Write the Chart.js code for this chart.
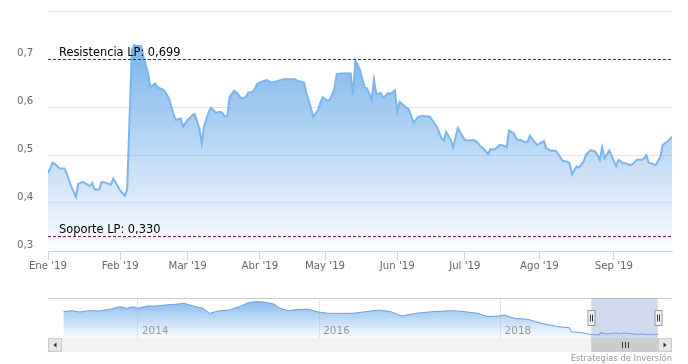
<!DOCTYPE html>
<html lang="es">
<head>
<meta charset="utf-8">
<title>Cotización 2019</title>
<script src="https://cdn.jsdelivr.net/npm/chart.js@4.4.1/dist/chart.umd.min.js"></script>
<style>
  html, body { margin: 0; padding: 0; background: #fff; }
  #wrap { position: relative; width: 688px; height: 364px; overflow: hidden; }
  #main-chart { position: absolute; left: 0; top: 0; }
  #nav-chart { position: absolute; left: 0; top: 290px; }
  #credits { position: absolute; right: 16px; top: 353px; font: 8.4px "DejaVu Sans", sans-serif; color: #999; white-space: nowrap; }
</style>
</head>
<body>
<div id="wrap">
  <canvas id="main-chart" width="688" height="280"></canvas>
  <canvas id="nav-chart" width="688" height="74"></canvas>
  <div id="credits">Estrategias de Inversión</div>
</div>
<script>
// dias desde el 1 de enero de 2019 y cierre
const days = [0, 2, 3, 5, 7, 8, 10, 12, 13, 15, 16, 18, 19, 20, 22, 23, 25, 27, 28, 30,
  31, 33, 34, 36, 37, 38, 40, 41, 43, 44, 46, 47, 49, 50, 52, 54, 55, 57, 58, 60,
  62, 63, 65, 66, 67, 69, 70, 72, 74, 75, 76, 77, 78, 80, 81, 83, 85, 86, 88, 90,
  92, 94, 96, 98, 101, 104, 106, 107, 110, 111, 113, 114, 116, 117, 118, 120, 121, 123, 124, 126,
  129, 130, 131, 132, 134, 136, 137, 139, 140, 141, 143, 144, 146, 147, 149, 150, 151, 153, 155, 157,
  159, 161, 164, 166, 167, 169, 170, 171, 173, 174, 176, 177, 179, 181, 183, 184, 186, 187, 189, 190,
  192, 194, 196, 197, 198, 200, 201, 202, 203, 205, 206, 207, 208, 210, 211, 213, 214, 216, 218, 219,
  221, 223, 224, 225, 227, 228, 230, 231, 233, 235, 236, 237, 238, 239, 241, 243, 244, 245, 247, 248,
  250, 251, 253, 255, 256, 257, 258, 260, 261, 263, 264, 266, 267, 268];
const prices = [0.462, 0.484, 0.481, 0.472, 0.472, 0.462, 0.434, 0.413, 0.440, 0.444, 0.441, 0.435, 0.442, 0.428, 0.428, 0.444, 0.442, 0.438, 0.451, 0.435,
  0.426, 0.415, 0.428, 0.719, 0.729, 0.727, 0.727, 0.705, 0.670, 0.641, 0.649, 0.641, 0.637, 0.634, 0.618, 0.583, 0.573, 0.576, 0.559, 0.573,
  0.583, 0.585, 0.556, 0.524, 0.559, 0.590, 0.599, 0.588, 0.590, 0.587, 0.580, 0.581, 0.621, 0.634, 0.630, 0.618, 0.621, 0.630, 0.632, 0.649,
  0.653, 0.656, 0.651, 0.653, 0.658, 0.658, 0.658, 0.655, 0.651, 0.629, 0.597, 0.579, 0.594, 0.609, 0.620, 0.613, 0.615, 0.637, 0.669, 0.670,
  0.670, 0.670, 0.625, 0.697, 0.677, 0.641, 0.639, 0.615, 0.658, 0.627, 0.629, 0.619, 0.629, 0.627, 0.635, 0.590, 0.611, 0.602, 0.595, 0.567,
  0.580, 0.581, 0.580, 0.566, 0.559, 0.535, 0.530, 0.548, 0.531, 0.516, 0.556, 0.548, 0.531, 0.530, 0.531, 0.528, 0.517, 0.514, 0.502, 0.512,
  0.512, 0.521, 0.519, 0.516, 0.551, 0.546, 0.535, 0.531, 0.531, 0.526, 0.528, 0.540, 0.533, 0.521, 0.523, 0.529, 0.514, 0.509, 0.509, 0.503,
  0.488, 0.486, 0.483, 0.460, 0.476, 0.474, 0.486, 0.500, 0.510, 0.507, 0.500, 0.490, 0.516, 0.493, 0.509, 0.488, 0.477, 0.490, 0.483, 0.483,
  0.479, 0.481, 0.490, 0.490, 0.493, 0.500, 0.484, 0.481, 0.479, 0.496, 0.521, 0.528, 0.533, 0.538];

const monthDays = [0, 31, 60, 91, 119, 150, 179, 211, 243];
const monthLabels = ["Ene '19", "Feb '19", "Mar '19", "Abr '19", "May '19", "Jun '19", "Jul '19", "Ago '19", "Sep '19"];
const yTicks = [0.3, 0.4, 0.5, 0.6, 0.7, 0.8];

const resistance = 0.699;
const support = 0.330;

// historico para el navegador (años)
const navYears = [2013.18, 2013.26, 2013.36, 2013.47, 2013.58, 2013.69, 2013.80, 2013.88, 2013.95, 2014.00,
  2014.10, 2014.20, 2014.31, 2014.42, 2014.51, 2014.61, 2014.72, 2014.79, 2014.90, 2015.01,
  2015.12, 2015.23, 2015.32, 2015.41, 2015.50, 2015.57, 2015.66, 2015.77, 2015.88, 2015.99,
  2016.10, 2016.21, 2016.37, 2016.51, 2016.66, 2016.79, 2016.91, 2017.06, 2017.24, 2017.46,
  2017.61, 2017.75, 2017.86, 2017.98, 2018.04, 2018.15, 2018.30, 2018.45, 2018.63, 2018.76,
  2018.78, 2018.89, 2018.97];
const navPrices = [3.55, 3.69, 3.51, 3.69, 3.65, 3.87, 4.23, 4.00, 4.23, 4.00,
  4.32, 4.32, 4.46, 4.55, 4.68, 4.32, 4.00, 3.33, 3.69, 3.78,
  4.23, 4.82, 4.91, 4.82, 4.59, 4.00, 3.69, 3.87, 3.87, 3.51,
  3.33, 3.33, 3.33, 3.55, 3.78, 3.55, 2.97, 3.33, 3.55, 3.69,
  3.55, 3.33, 2.88, 2.97, 3.11, 2.66, 2.52, 1.98, 1.53, 1.39,
  0.85, 0.72, 0.54];
const navTicks = [2014, 2016, 2018];

Chart.defaults.font.family = '"DejaVu Sans", sans-serif';

const fmt = (v, d) => v.toFixed(d).replace(".", ",");
const toYear = (d) => 2019 + d / 365;

function blueFill(topPx) {
  return (context) => {
    const { chart } = context;
    const area = chart.chartArea;
    if (!area) return "rgba(124,181,236,0.5)";
    const top = topPx ? topPx(chart) : area.top;
    const g = chart.ctx.createLinearGradient(0, top, 0, area.bottom);
    g.addColorStop(0, "rgba(124,181,236,1)");
    g.addColorStop(1, "rgba(124,181,236,0.03)");
    return g;
  };
}

const lineLabels = {
  id: "lineLabels",
  afterDatasetsDraw(chart) {
    const { ctx, chartArea, scales: { y } } = chart;
    ctx.save();
    ctx.font = '11.4px "DejaVu Sans", sans-serif';
    ctx.fillStyle = "#000";
    ctx.textBaseline = "alphabetic";
    ctx.fillText("Resistencia LP: " + fmt(resistance, 3), chartArea.left + 11, y.getPixelForValue(resistance) - 3);
    ctx.fillText("Soporte LP: " + fmt(support, 3), chartArea.left + 11, y.getPixelForValue(support) - 3.5);
    ctx.restore();
  }
};

const xMax = days[days.length - 1];

new Chart(document.getElementById("main-chart"), {
  type: "line",
  data: {
    datasets: [
      { data: [{ x: 0, y: resistance }, { x: xMax, y: resistance }], borderColor: "#006400", borderWidth: 1, borderDash: [3, 2], pointRadius: 0, fill: false, order: 0 },
      { data: [{ x: 0, y: support }, { x: xMax, y: support }], borderColor: "#800040", borderWidth: 1, borderDash: [3, 2], pointRadius: 0, fill: false, order: 0 },
      {
        data: days.map((d, i) => ({ x: d, y: prices[i] })),
        borderColor: "#7cb5ec", borderWidth: 2, pointRadius: 0, tension: 0,
        fill: "start",
        backgroundColor: blueFill((c) => c.scales.y.getPixelForValue(Math.max(...prices))),
        order: 2
      }
    ]
  },
  options: {
    responsive: false,
    animation: false,
    events: [],
    layout: { padding: { left: 17, right: 16, top: 11, bottom: 0 } },
    plugins: { legend: { display: false }, tooltip: { enabled: false } },
    scales: {
      x: {
        type: "linear", min: 0, max: xMax,
        afterBuildTicks: (s) => { s.ticks = monthDays.map(value => ({ value })); },
        afterFit: (s) => { s.height = 29; },
        grid: { drawOnChartArea: false, drawTicks: true, tickLength: 9, color: "#ccd6eb" },
        border: { color: "#ccd6eb" },
        ticks: { callback: (v, i) => monthLabels[i], autoSkip: false, maxRotation: 0, padding: 0, color: "#666", font: { size: 10.2 } }
      },
      y: {
        min: 0.3, max: 0.8,
        afterBuildTicks: (s) => { s.ticks = yTicks.map(value => ({ value })); },
        afterFit: (s) => { s.width = 31; },
        grid: { color: "#e6e6e6", drawTicks: false },
        border: { display: false },
        ticks: {
          callback: (v) => v >= 0.79 ? "" : fmt(v, 1),
          crossAlign: "far", padding: 0, labelOffset: -6, color: "#666", font: { size: 10.2 }
        }
      }
    }
  },
  plugins: [lineLabels]
});

// navegador + barra de desplazamiento
const navigatorParts = {
  id: "navigatorParts",
  afterDraw(chart) {
    const { ctx, chartArea: a, scales: { x } } = chart;
    const x0 = x.getPixelForValue(toYear(0));
    const x1 = x.getPixelForValue(toYear(xMax));
    ctx.save();
    // borde superior
    ctx.strokeStyle = "#cccccc";
    ctx.lineWidth = 1;
    ctx.beginPath(); ctx.moveTo(a.left, a.top + 0.5); ctx.lineTo(a.right, a.top + 0.5); ctx.stroke();
    // zona seleccionada
    ctx.fillStyle = "rgba(102,133,194,0.3)";
    ctx.fillRect(x0, a.top, x1 - x0, a.bottom - a.top);
    // asas
    const hy = (a.top + a.bottom) / 2 - 7.5;
    [x0, x1].forEach(hx => {
      const cx = Math.round(hx) + 0.5;
      ctx.fillStyle = "#f2f2f2";
      ctx.strokeStyle = "#999999";
      ctx.fillRect(cx - 3.5, hy, 7, 15);
      ctx.strokeRect(cx - 3.5, hy, 7, 15);
      ctx.strokeStyle = "#333";
      ctx.beginPath();
      ctx.moveTo(cx - 1, hy + 4); ctx.lineTo(cx - 1, hy + 11);
      ctx.moveTo(cx + 1, hy + 4); ctx.lineTo(cx + 1, hy + 11);
      ctx.stroke();
    });
    // barra
    const sy = a.bottom, sh = 14, bw = 14;
    ctx.fillStyle = "#f2f2f2";
    ctx.fillRect(a.left, sy, a.right - a.left, sh);
    const tx0 = Math.max(x0, a.left + bw), tx1 = Math.min(x1, a.right - bw);
    ctx.fillStyle = "#cccccc";
    ctx.fillRect(tx0, sy, tx1 - tx0, sh);
    const gx = Math.round((tx0 + tx1) / 2) + 0.5;
    ctx.strokeStyle = "#333";
    ctx.beginPath();
    [-3, 0, 3].forEach(o => { ctx.moveTo(gx + o, sy + 4); ctx.lineTo(gx + o, sy + 10); });
    ctx.stroke();
    [[a.left, -1], [a.right - bw, 1]].forEach(([bx, dir]) => {
      ctx.fillStyle = "#e6e6e6";
      ctx.strokeStyle = "#cccccc";
      ctx.fillRect(bx, sy, bw, sh);
      ctx.strokeRect(bx + 0.5, sy + 0.5, bw - 1, sh - 1);
      const cx = bx + bw / 2, cy = sy + sh / 2;
      ctx.fillStyle = "#333";
      ctx.beginPath();
      ctx.moveTo(cx + 1.5 * dir, cy);
      ctx.lineTo(cx - 1.5 * dir, cy - 2.5);
      ctx.lineTo(cx - 1.5 * dir, cy + 2.5);
      ctx.closePath();
      ctx.fill();
    });
    ctx.restore();
  }
};

const navData = navYears.map((yr, i) => ({ x: yr, y: navPrices[i] }))
  .concat(days.map((d, i) => ({ x: toYear(d), y: prices[i] })));

new Chart(document.getElementById("nav-chart"), {
  type: "line",
  data: {
    datasets: [{
      data: navData,
      borderColor: "#6a9fd8", borderWidth: 1, pointRadius: 0, tension: 0,
      fill: "start", backgroundColor: blueFill()
    }]
  },
  options: {
    responsive: false,
    animation: false,
    events: [],
    layout: { padding: { left: 48, right: 16, top: 8, bottom: 26 } },
    plugins: { legend: { display: false }, tooltip: { enabled: false } },
    scales: {
      x: {
        type: "linear", min: 2013.01, max: 2019.89,
        afterBuildTicks: (s) => { s.ticks = navTicks.map(value => ({ value })); },
        afterFit: (s) => { s.height = 0; },
        grid: { color: "#e6e6e6", drawTicks: false },
        border: { display: false },
        ticks: { callback: (v) => String(v), align: "start", mirror: true, labelOffset: 4, padding: 0, z: 1, color: "#999", font: { size: 10.5 }, maxRotation: 0 }
      },
      y: { display: false, min: 0, max: 5.4 }
    }
  },
  plugins: [navigatorParts]
});
</script>
</body>
</html>
